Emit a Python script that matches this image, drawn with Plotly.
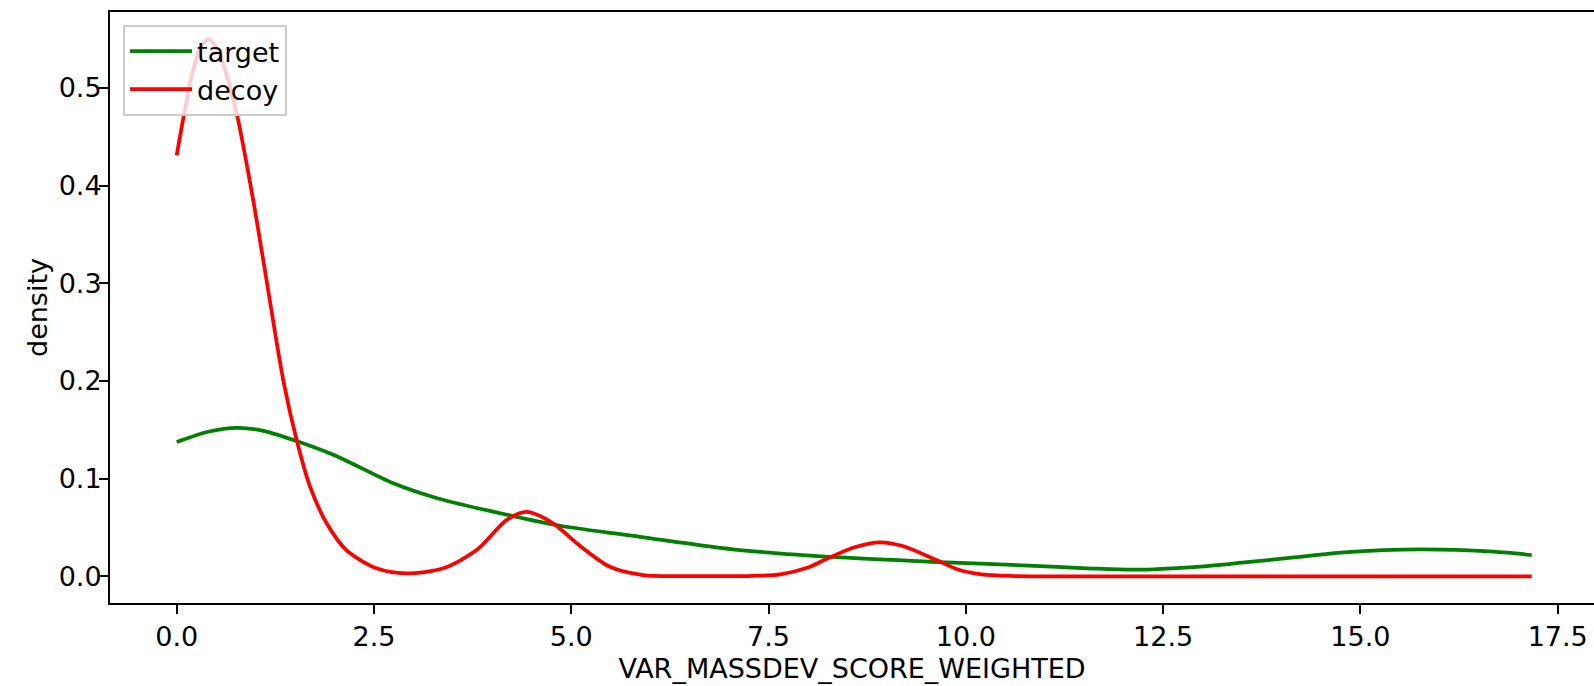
import plotly.graph_objects as go

# ---- data ----
target_x = [0.0, 0.4, 0.76, 1.1, 1.48, 2.0, 2.745, 3.3, 4.01, 4.86, 5.87, 7.14,
            8.41, 9.67, 10.94, 11.6, 12.15, 12.89, 13.5, 14.16, 14.79, 15.76, 16.69, 17.17]
target_y = [0.1375, 0.148, 0.152, 0.149, 0.1396, 0.124, 0.0952, 0.080, 0.0662, 0.0518, 0.0405, 0.0269,
            0.0194, 0.0146, 0.0105, 0.0080, 0.0068, 0.0095, 0.0140, 0.0194, 0.0246, 0.0276, 0.0252, 0.0218]

decoy_x = [0.0, 0.1, 0.2, 0.3, 0.4, 0.5, 0.6, 0.76, 0.97, 1.135, 1.35, 1.52, 1.69, 1.9,
           2.15, 2.53, 2.91, 3.38, 3.8, 4.18, 4.43, 4.77, 5.07, 5.49, 5.91, 6.5, 7.3, 7.65,
           8.0, 8.24, 8.6, 8.91, 9.2, 9.59, 9.9, 10.2, 10.6, 11.0, 13.0, 15.0, 17.17]
decoy_y = [0.431, 0.476, 0.516, 0.541, 0.550, 0.542, 0.522, 0.474, 0.385, 0.305, 0.201, 0.1396, 0.0918, 0.0543,
           0.0269, 0.0082, 0.0031, 0.0082, 0.0269, 0.0576, 0.066, 0.0543, 0.0338, 0.0098, 0.0013, 0.0003, 0.0005, 0.002,
           0.009, 0.018, 0.030, 0.0348, 0.031, 0.018, 0.007, 0.002, 0.0003, 0.0, 0.0, 0.0, 0.0]

x_ticks = [0.0, 2.5, 5.0, 7.5, 10.0, 12.5, 15.0, 17.5]
x_tick_labels = ["0.0", "2.5", "5.0", "7.5", "10.0", "12.5", "15.0", "17.5"]
y_ticks = [0.0, 0.1, 0.2, 0.3, 0.4, 0.5]
y_tick_labels = ["0.0", "0.1", "0.2", "0.3", "0.4", "0.5"]

FONT = "DejaVu Sans"
FS = 27

fig = go.Figure()
fig.add_trace(go.Scatter(x=target_x, y=target_y, mode="lines", name="target",
                         line=dict(color="green", width=3.75, shape="spline", smoothing=0.8),
                         legendgroup="a"))
fig.add_trace(go.Scatter(x=decoy_x, y=decoy_y, mode="lines", name="decoy",
                         line=dict(color="red", width=3.75, shape="spline", smoothing=0.8),
                         legendgroup="b"))

axis_common = dict(showgrid=False, zeroline=False, showline=True, linecolor="black", linewidth=2,
                   ticks="outside", ticklen=9, tickwidth=2, tickcolor="black", automargin=False,
                   tickfont=dict(family=FONT, size=FS, color="black"))

fig.update_layout(
    width=1594, height=686,
    margin=dict(l=110, r=0, t=12, b=83),
    paper_bgcolor="white", plot_bgcolor="white",
    font=dict(family=FONT, size=FS, color="black"),
    xaxis=dict(range=[-0.8453, 17.96], tickvals=x_ticks, ticktext=x_tick_labels, mirror=True,
               title=dict(text="VAR_MASSDEV_SCORE_WEIGHTED", font=dict(family=FONT, size=FS), standoff=8),
               **axis_common),
    yaxis=dict(range=[-0.0273, 0.5778], tickvals=y_ticks, ticktext=y_tick_labels,
               ticklabelstandoff=-8,
               title=dict(text="density", font=dict(family=FONT, size=FS), standoff=3),
               **axis_common),
    legend=dict(x=0.0088, y=0.978, xanchor="left", yanchor="top",
                bgcolor="rgba(255,255,255,0.8)", bordercolor="#cccccc", borderwidth=2,
                font=dict(family=FONT, size=FS), tracegroupgap=0, itemwidth=62),
    showlegend=True,
)

fig.write_html("out.html", config={"displayModeBar": False},
               post_script="document.body.style.margin='0';document.body.style.overflow='hidden';")
